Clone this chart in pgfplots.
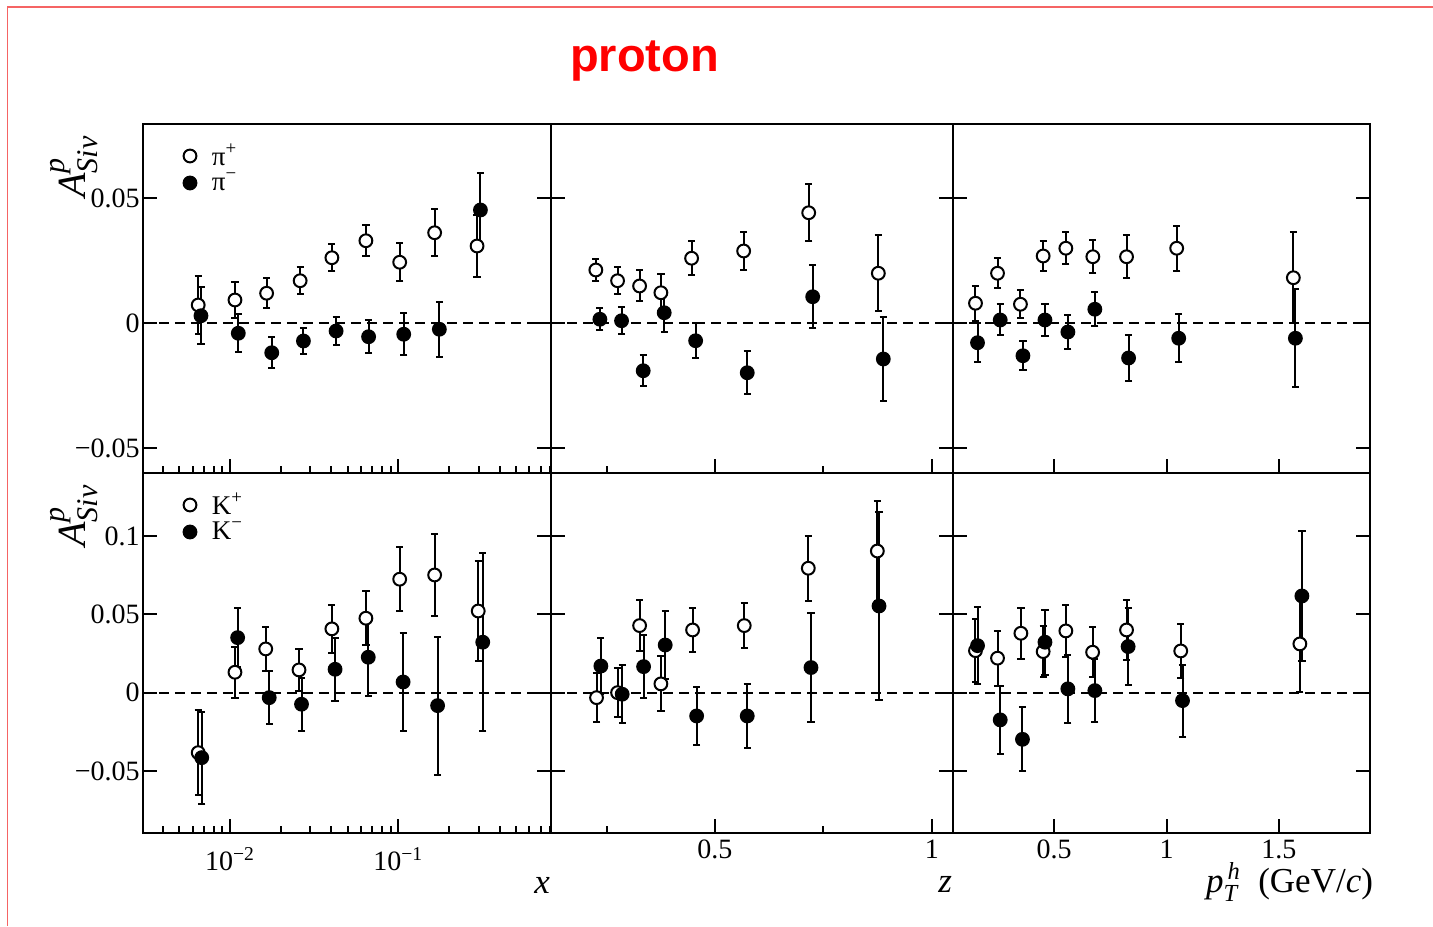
\documentclass[border=0pt]{standalone}
\usepackage{amsmath}
\usepackage{fontspec}
\setmainfont{Liberation Serif}
\newfontfamily\titlefont{Liberation Sans}
\usepackage{pgfplots}
\pgfplotsset{compat=1.18}

\definecolor{framered}{RGB}{245,100,100}
\newcommand{\tl}{\fontsize{14}{14}\selectfont}
\newcommand{\al}{\fontsize{17.5}{17.5}\selectfont}
\newcommand{\yl}{\fontsize{20}{20}\selectfont}
\newcommand{\ys}{\fontsize{15}{15}\selectfont\itshape}
\newcommand{\asiv}{$\textit{A}^{\text{\ys p}}_{\text{\ys Siv}}$}

\pgfplotsset{
  panel/.style={
    scale only axis,
    scaled x ticks=false,
    scaled y ticks=false,
    axis line style={line width=1.2pt},
    every tick/.style={black, line width=1pt},
    major tick length=7pt,
    minor tick length=3.5pt,
    tick align=inside,
    xtick pos=left,
    ytick pos=both,
    yticklabel pos=left,
    ticklabel style={font=\tl},
    yticklabel style={inner sep=1.5pt},
  },
  toprow/.style={ymin=-0.06, ymax=0.0796, height=174.5pt, ytick={-0.05,0,0.05}},
  botrow/.style={ymin=-0.0896, ymax=0.1402, height=180pt, ytick={-0.05,0,0.05,0.1}},
  colone/.style={width=204pt, xmin=0.00304, xmax=0.808, xtick={0.01,0.1},
     minor xtick={0.003,0.004,0.005,0.006,0.007,0.008,0.009,0.02,0.03,0.04,0.05,0.06,0.07,0.08,0.09,0.2,0.3,0.4,0.5,0.6,0.7,0.8}},
  coltwo/.style={width=201pt, xmin=0.122, xmax=1.049, xtick={0.5,1}, minor xtick={0.25,0.75}},
  colthree/.style={width=208.5pt, xmin=0.05, xmax=1.905, xtick={0.5,1,1.5}},
  zeroline/.style={black, line width=1pt, dash pattern=on 5pt off 3pt, forget plot},
  openpt/.style={only marks, mark=*, mark size=3.2pt,
     mark options={line width=1pt, fill=white, draw=black, solid},
     error bars/.cd, y dir=both, y explicit,
     error bar style={line width=1pt, black, solid},
     error mark options={rotate=90, mark size=1.8pt, line width=1pt, black}},
  fullpt/.style={only marks, mark=*, mark size=3.2pt,
     mark options={line width=1pt, fill=black, draw=black, solid},
     error bars/.cd, y dir=both, y explicit,
     error bar style={line width=1pt, black, solid},
     error mark options={rotate=90, mark size=1.8pt, line width=1pt, black}},
  mylegend/.style={
     legend style={draw=none, fill=none, at={(rel axis cs:0,1)}, anchor=north west,
       xshift=13.5pt, yshift=-9.25pt, inner sep=0pt, outer sep=0pt, row sep=0pt,
       nodes={inner sep=0pt, draw=none, font=\fontsize{13.5}{13.5}\selectfont}},
     legend cell align=left,
     legend image code/.code={\path[draw=none, fill=none] (0pt,-6.75pt) rectangle (21pt,6.75pt); \draw[##1] plot coordinates {(10pt,0pt)};}
  },
}

\begin{document}
\begin{tikzpicture}
\useasboundingbox (0,0) rectangle (716.5pt,463pt);
\draw[framered, line width=0.7pt] (3.85pt,0pt) -- (3.85pt,459.5pt) -- (716.5pt,459.5pt);
\node[anchor=base, font=\titlefont\bfseries\fontsize{23.5}{23.5}\selectfont, text=red] at (322.25pt,427.2pt) {proton};

% ---------------- top row ----------------
\begin{semilogxaxis}[panel, toprow, colone, at={(71.5pt,226.5pt)}, anchor=south west,
  xticklabels={}, yticklabels={−0.05,0,0.05}, mylegend]
\addplot[openpt] table[x=x,y=y,y error=e] {
x y e
0.00647 0.0072 0.0117
0.0107 0.0092 0.0073
0.0165 0.0119 0.0060
0.0261 0.0169 0.0053
0.0403 0.0261 0.0055
0.0642 0.0329 0.0062
0.1019 0.0243 0.0075
0.1644 0.0361 0.0095
0.2938 0.0308 0.0125
};
\addlegendentry{π\textsuperscript{+}}
\addplot[fullpt] table[x=x,y=y,y error=e] {
x y e
0.00672 0.0029 0.0115
0.0112 -0.0041 0.0075
0.0177 -0.0119 0.0062
0.0273 -0.0072 0.0053
0.0427 -0.0032 0.0057
0.0666 -0.0055 0.0067
0.1077 -0.0045 0.0083
0.1754 -0.0025 0.0110
0.3076 0.0452 0.0147
};
\addlegendentry{π\textsuperscript{−}}
\addplot[zeroline] coordinates {(0.00304,0) (0.808,0)};
\end{semilogxaxis}

\begin{axis}[panel, toprow, coltwo, at={(275.5pt,226.5pt)}, anchor=south west,
  xticklabels={}, yticklabels={}]
\addplot[zeroline] coordinates {(0.122,0) (1.049,0)};
\addplot[openpt] table[x=x,y=y,y error=e] {
x y e
0.2254 0.0212 0.0045
0.2755 0.0169 0.0054
0.3263 0.0148 0.0062
0.3754 0.0121 0.0073
0.4462 0.0259 0.0067
0.5662 0.0288 0.0077
0.7162 0.0441 0.0113
0.8768 0.0199 0.0152
};
\addplot[fullpt] table[x=x,y=y,y error=e] {
x y e
0.2347 0.0015 0.0045
0.2847 0.0009 0.0053
0.3346 -0.0191 0.0063
0.3830 0.0041 0.0077
0.4555 -0.0071 0.0070
0.5745 -0.0199 0.0087
0.7254 0.0105 0.0127
0.8883 -0.0144 0.0167
};
\end{axis}

\begin{axis}[panel, toprow, colthree, at={(476.5pt,226.5pt)}, anchor=south west,
  xticklabels={}, yticklabels={}]
\addplot[zeroline] coordinates {(0.05,0) (1.905,0)};
\addplot[openpt] table[x=x,y=y,y error=e] {
x y e
0.150 0.0079 0.0070
0.248 0.0199 0.0059
0.350 0.0075 0.0056
0.451 0.0268 0.0059
0.552 0.0299 0.0065
0.672 0.0265 0.0066
0.822 0.0265 0.0086
1.045 0.0299 0.0090
1.564 0.0181 0.0183
};
\addplot[fullpt] table[x=x,y=y,y error=e] {
x y e
0.159 -0.0079 0.0077
0.260 0.0012 0.0062
0.361 -0.0131 0.0058
0.459 0.0012 0.0063
0.561 -0.0036 0.0069
0.681 0.0055 0.0069
0.831 -0.0140 0.0092
1.054 -0.0061 0.0097
1.573 -0.0061 0.0195
};
\end{axis}

% ---------------- bottom row ----------------
\begin{semilogxaxis}[panel, botrow, colone, at={(71.5pt,46.5pt)}, anchor=south west,
  xticklabels={10\textsuperscript{−2},10\textsuperscript{−1}},
  xticklabel style={yshift=-3.5pt},
  yticklabels={−0.05,0,0.05,0.1}, mylegend]
\addplot[openpt] table[x=x,y=y,y error=e] {
x y e
0.00647 -0.0383 0.0270
0.0107 0.0130 0.0163
0.0163 0.0279 0.0143
0.0257 0.0145 0.0134
0.0403 0.0407 0.0152
0.0642 0.0475 0.0172
0.1019 0.0724 0.0203
0.1644 0.0751 0.0264
0.2985 0.0521 0.0320
};
\addlegendentry{K\textsuperscript{+}}
\addplot[fullpt] table[x=x,y=y,y error=e] {
x y e
0.00679 -0.0415 0.0294
0.0111 0.0351 0.0187
0.0171 -0.0032 0.0169
0.0266 -0.0074 0.0170
0.0421 0.0149 0.0202
0.0663 0.0226 0.0245
0.1068 0.0068 0.0314
0.1712 -0.0083 0.0440
0.3175 0.0322 0.0570
};
\addlegendentry{K\textsuperscript{−}}
\addplot[zeroline] coordinates {(0.00304,0) (0.808,0)};
\end{semilogxaxis}

\begin{axis}[panel, botrow, coltwo, at={(275.5pt,46.5pt)}, anchor=south west,
  xticklabels={0.5,1}, yticklabels={}]
\addplot[zeroline] coordinates {(0.122,0) (1.049,0)};
\addplot[openpt] table[x=x,y=y,y error=e] {
x y e
0.2270 -0.0032 0.0156
0.2755 0.0000 0.0157
0.3263 0.0428 0.0163
0.3754 0.0056 0.0175
0.4485 0.0400 0.0140
0.5676 0.0428 0.0141
0.7153 0.0794 0.0209
0.8745 0.0904 0.0320
};
\addplot[fullpt] table[x=x,y=y,y error=e] {
x y e
0.2370 0.0170 0.0177
0.2861 -0.0010 0.0184
0.3355 0.0166 0.0200
0.3853 0.0304 0.0220
0.4578 -0.0149 0.0184
0.5745 -0.0149 0.0205
0.7215 0.0160 0.0348
0.8784 0.0553 0.0597
};
\end{axis}

\begin{axis}[panel, botrow, colthree, at={(476.5pt,46.5pt)}, anchor=south west,
  xticklabels={0.5,1,1.5}, yticklabels={}]
\addplot[zeroline] coordinates {(0.05,0) (1.905,0)};
\addplot[openpt] table[x=x,y=y,y error=e] {
x y e
0.150 0.0268 0.0200
0.248 0.0220 0.0175
0.352 0.0379 0.0163
0.451 0.0262 0.0163
0.552 0.0394 0.0165
0.671 0.0258 0.0158
0.822 0.0400 0.0191
1.063 0.0266 0.0173
1.593 0.0311 0.0310
};
\addplot[fullpt] table[x=x,y=y,y error=e] {
x y e
0.159 0.0300 0.0248
0.260 -0.0174 0.0218
0.359 -0.0298 0.0205
0.459 0.0322 0.0207
0.561 0.0024 0.0218
0.681 0.0013 0.0200
0.829 0.0294 0.0247
1.071 -0.0051 0.0230
1.602 0.0617 0.0415
};
\end{axis}

% axis titles
\node[anchor=base east, font=\al\itshape] at (278.5pt,16.5pt) {x};
\node[anchor=base east, font=\al\itshape] at (479.5pt,17pt) {z};
\node[anchor=base east, font=\al] at (690pt,17pt) {$\textit{p}^{\,\textit{h}}_{\textit{T}}$\ \ (GeV/\textit{c})};
\node[rotate=90, anchor=base east, font=\yl, inner sep=0pt] at (42.5pt,395.5pt) {\asiv};
\node[rotate=90, anchor=base east, font=\yl, inner sep=0pt] at (42.5pt,221pt) {\asiv};
\end{tikzpicture}
\end{document}
